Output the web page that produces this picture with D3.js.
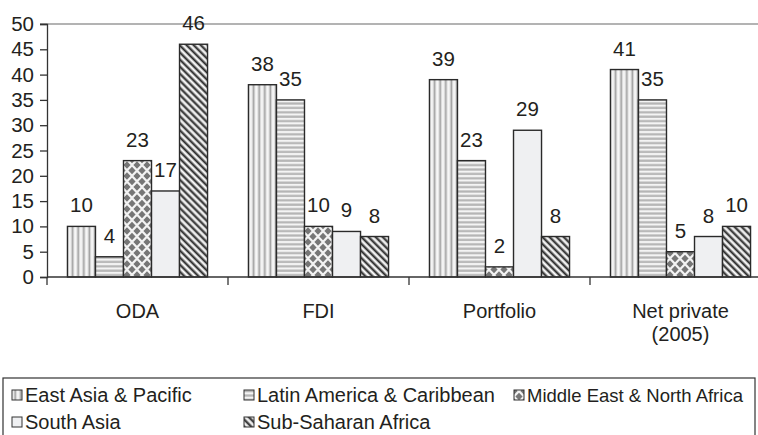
<!DOCTYPE html>
<html>
<head>
<meta charset="utf-8">
<script src="https://cdn.jsdelivr.net/npm/d3@7"></script>
<style>
  html, body { margin: 0; padding: 0; background: #fff; }
  svg { display: block; }
  text { font-family: "Liberation Sans", Arial, Helvetica, sans-serif; fill: #231f20; }
</style>
</head>
<body>
<svg id="chart" width="758" height="435"></svg>
<script>
// Flow categories along the x axis
const categories = ["ODA", "FDI", "Portfolio", "Net private (2005)"];
// Regions (one bar per region in each category)
const regions = ["East Asia & Pacific", "Latin America & Caribbean", "Middle East & North Africa", "South Asia", "Sub-Saharan Africa"];
// Shares (%) by region, one array per category
const oda        = [10, 4, 23, 17, 46];
const fdi        = [38, 35, 10, 9, 8];
const portfolio  = [39, 23, 2, 29, 8];
const netPrivate = [41, 35, 5, 8, 10];
const yTicks = [0, 5, 10, 15, 20, 25, 30, 35, 40, 45, 50];

const table = categories.map((c, i) => ({
  category: c,
  values: [oda, fdi, portfolio, netPrivate][i]
}));

const svg = d3.select("#chart");
const W = 758;
const plotLeft = 47, plotBottom = 277, plotTop = 24;

// fill patterns, one per region
const defs = svg.append("defs");
defs.append("filter").attr("id", "soft").attr("x", "-20%").attr("y", "-20%")
  .attr("width", "140%").attr("height", "140%")
  .append("feGaussianBlur").attr("stdDeviation", 0.7);

const pV = defs.append("pattern").attr("id", "pat0").attr("patternUnits", "userSpaceOnUse")
  .attr("width", 5.6).attr("height", 10);
pV.append("rect").attr("width", 5.6).attr("height", 10).attr("fill", "#f7f7f7");
pV.append("rect").attr("x", 1.6).attr("width", 1).attr("height", 10).attr("fill", "#cacaca");
pV.append("rect").attr("x", 2.6).attr("width", 1.4).attr("height", 10).attr("fill", "#a2a2a2");
pV.append("rect").attr("x", 4.0).attr("width", 0.8).attr("height", 10).attr("fill", "#cdcdcd");

const pH = defs.append("pattern").attr("id", "pat1").attr("patternUnits", "userSpaceOnUse")
  .attr("width", 10).attr("height", 4.4);
pH.append("rect").attr("width", 10).attr("height", 4.4).attr("fill", "#f4f4f4");
pH.append("rect").attr("y", 1.2).attr("width", 10).attr("height", 2.2).attr("fill", "#b4b4b4");

const pD = defs.append("pattern").attr("id", "pat2").attr("patternUnits", "userSpaceOnUse")
  .attr("width", 10).attr("height", 11);
pD.append("rect").attr("width", 10).attr("height", 11).attr("fill", "#f3f3f3");
const pDg = pD.append("g").attr("filter", "url(#soft)");
[[0, 0], [10, 0], [5, 5.5], [0, 11], [10, 11]].forEach(([cx, cy]) => {
  pDg.append("path")
    .attr("d", `M${cx},${cy - 3.8}L${cx + 3.6},${cy}L${cx},${cy + 3.8}L${cx - 3.6},${cy}Z`)
    .attr("fill", "#767676");
});

const pS = defs.append("pattern").attr("id", "pat3").attr("patternUnits", "userSpaceOnUse")
  .attr("width", 10).attr("height", 10);
pS.append("rect").attr("width", 10).attr("height", 10).attr("fill", "#eff0f2");

const pX = defs.append("pattern").attr("id", "pat4").attr("patternUnits", "userSpaceOnUse")
  .attr("width", 5).attr("height", 10).attr("patternTransform", "rotate(-45)");
pX.append("rect").attr("width", 5).attr("height", 10).attr("fill", "#ffffff");
pX.append("rect").attr("x", 0.4).attr("width", 0.6).attr("height", 10).attr("fill", "#888");
pX.append("rect").attr("x", 1.0).attr("width", 1.8).attr("height", 10).attr("fill", "#2a2a2a");
pX.append("rect").attr("x", 2.8).attr("width", 0.6).attr("height", 10).attr("fill", "#888");

// scales
const x0 = d3.scaleBand().domain(categories).range([plotLeft, 771]).paddingInner(0).paddingOuter(0);
const x1 = d3.scaleBand().domain(regions).range([0, x0.bandwidth()]).paddingInner(0).paddingOuter(0.73);
const y = d3.scaleLinear().domain([0, 50]).range([plotBottom, plotTop]);

// top frame line at 50
svg.append("line")
  .attr("x1", plotLeft - 7).attr("x2", W).attr("y1", y(50)).attr("y2", y(50))
  .attr("stroke", "#9a9a9a").attr("stroke-width", 1.5);

// y axis
const yAxis = svg.append("g").attr("transform", `translate(${plotLeft},0)`)
  .call(d3.axisLeft(y).tickValues(yTicks).tickSize(7).tickPadding(6).tickFormat(d3.format("d")));
yAxis.select(".domain").attr("stroke", "#333").attr("stroke-width", 1.3);
yAxis.selectAll(".tick line").attr("stroke", "#333").attr("stroke-width", 1.3);
yAxis.selectAll(".tick text").attr("font-size", 20.5).attr("fill", "#231f20")
  .attr("font-family", "Liberation Sans, Arial, sans-serif");

// bars
const groups = svg.append("g").selectAll("g").data(table).join("g")
  .attr("transform", d => `translate(${x0(d.category)},0)`);

groups.selectAll("rect")
  .data(d => d.values.map((v, i) => ({ region: regions[i], idx: i, value: v })))
  .join("rect")
  .attr("x", d => x1(d.region))
  .attr("y", d => y(d.value))
  .attr("width", x1.bandwidth())
  .attr("height", d => y(0) - y(d.value))
  .attr("fill", d => `url(#pat${d.idx})`)
  .attr("stroke", "#2a2a2a").attr("stroke-width", 1.4);

groups.selectAll("text.val")
  .data(d => d.values.map((v, i) => ({ region: regions[i], value: v })))
  .join("text").attr("class", "val")
  .attr("x", d => x1(d.region) + x1.bandwidth() / 2)
  .attr("y", d => y(d.value) - 14)
  .attr("text-anchor", "middle")
  .attr("font-size", 20.5)
  .text(d => d.value);

// x axis line with category boundary ticks
svg.append("line")
  .attr("x1", plotLeft).attr("x2", W).attr("y1", plotBottom).attr("y2", plotBottom)
  .attr("stroke", "#333").attr("stroke-width", 1.3);
svg.append("g").selectAll("line").data(categories).join("line")
  .attr("x1", d => x0(d)).attr("x2", d => x0(d))
  .attr("y1", plotBottom).attr("y2", plotBottom + 8)
  .attr("stroke", "#333").attr("stroke-width", 1.3);

// category labels (wrapped on two lines where needed)
const catLines = { "Net private (2005)": ["Net private", "(2005)"] };
svg.append("g").selectAll("text").data(categories).join("text")
  .attr("text-anchor", "middle")
  .attr("font-size", 20)
  .attr("x", d => x0(d) + x0.bandwidth() / 2)
  .attr("y", 318)
  .each(function (d) {
    const lines = catLines[d] || [d];
    d3.select(this).selectAll("tspan").data(lines).join("tspan")
      .attr("x", x0(d) + x0.bandwidth() / 2)
      .attr("dy", (l, i) => i === 0 ? 0 : 23)
      .text(l => l);
  });

// legend
svg.append("rect")
  .attr("x", 3).attr("y", 378).attr("width", 752).attr("height", 80)
  .attr("fill", "none").attr("stroke", "#333").attr("stroke-width", 1.2);

const legendPos = [
  { x: 12, y: 402 }, { x: 244, y: 402 }, { x: 514, y: 402 },
  { x: 12, y: 429 }, { x: 244, y: 429 }
];
const leg = svg.append("g").selectAll("g").data(regions).join("g")
  .attr("transform", (d, i) => `translate(${legendPos[i].x},${legendPos[i].y})`);
leg.append("rect")
  .attr("x", 0).attr("y", -12).attr("width", 10).attr("height", 10)
  .attr("fill", (d, i) => `url(#pat${i})`)
  .attr("stroke", "#333").attr("stroke-width", 1);
leg.append("text")
  .attr("x", 13).attr("y", 0)
  .attr("font-size", (d, i) => i === 2 ? 18.5 : 20)   // last column is a little tighter
  .text(d => d);
</script>
</body>
</html>
